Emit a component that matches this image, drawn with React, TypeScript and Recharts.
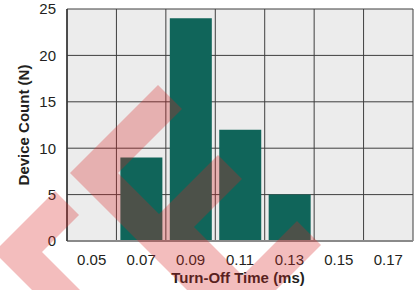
import React from 'react'
import { BarChart, Bar, XAxis, YAxis, CartesianGrid, Label } from 'recharts'

const TIMES = ['0.05', '0.07', '0.09', '0.11', '0.13', '0.15', '0.17']
const COUNTS = [0, 9, 24, 12, 5, 0, 0]
const Y_TICKS = [0, 5, 10, 15, 20, 25]
const Y_MINOR = Array.from({ length: 26 }, (_, i) => i)

const FONT = '"Liberation Sans", Arial, Helvetica, sans-serif'
const BAR = '#10655a'
const INK = '#231f20'

// pink check-mark watermark laid over the picture
const WATERMARK = [
  'M-6,252 L55,191 L79,215 L42,252 L90,300 L42,300 Z',
  'M70,173 L158,85 L182,109 L118,173 L248,303 L200,303 Z',
  'M146,227 L218,155 L242,179 L194,227 L264,297 L216,297 Z',
  'M213,305 L297,221 L321,245 L261,305 Z',
]

const data = TIMES.map((t, i) => ({ t, n: COUNTS[i] }))

export default function App() {
  return (
    <div style={{ position: 'absolute', left: 0, top: 0, width: 415, height: 290, background: '#fff' }}>
      <BarChart
        width={415}
        height={290}
        data={data}
        margin={{ top: 9, right: 2, left: 0, bottom: 0 }}
        barCategoryGap="8%"
        style={{ fontFamily: FONT }}
      >
        <CartesianGrid
          fill="#ececec"
          stroke="#3f3f3f"
          strokeWidth={1}
          verticalCoordinatesGenerator={({ offset }: any) =>
            Array.from({ length: TIMES.length + 1 }, (_, i) => offset.left + (i * offset.width) / TIMES.length)
          }
        />
        <XAxis
          dataKey="t"
          height={49}
          interval={0}
          tickLine={false}
          tickSize={0}
          tickMargin={13}
          axisLine={{ stroke: '#8a8a8a', strokeWidth: 2 }}
          tick={{ fontSize: 15, fill: INK, fontFamily: FONT }}
        >
          <Label
            content={({ viewBox }: any) => (
              <text
                x={viewBox.x + viewBox.width / 2 - 2}
                y={viewBox.y + 42}
                textAnchor="middle"
                fontSize={15}
                fontWeight="bold"
                fill={INK}
                fontFamily={FONT}
              >
                Turn-Off Time (ms)
              </text>
            )}
          />
        </XAxis>
        <YAxis
          width={67}
          domain={[0, 25]}
          ticks={Y_TICKS}
          interval={0}
          tickLine={false}
          tickSize={0}
          tickMargin={11}
          axisLine={{ stroke: '#333', strokeWidth: 1.5 }}
          tick={{ fontSize: 15, fill: INK, fontFamily: FONT }}
        >
          <Label
            content={({ viewBox }: any) => {
              const x = viewBox.x + 23
              const y = viewBox.y + viewBox.height / 2
              return (
                <text
                  x={x}
                  y={y}
                  transform={`rotate(-90 ${x} ${y})`}
                  textAnchor="middle"
                  dominantBaseline="central"
                  fontSize={15}
                  fontWeight="bold"
                  fill={INK}
                  fontFamily={FONT}
                >
                  Device Count (N)
                </text>
              )
            }}
          />
        </YAxis>
        <YAxis
          yAxisId="minor"
          orientation="left"
          mirror
          width={0}
          domain={[0, 25]}
          ticks={Y_MINOR}
          interval={0}
          tick={false}
          tickSize={5}
          axisLine={false}
          tickLine={{ stroke: '#444', strokeWidth: 1 }}
        />
        <Bar dataKey="n" fill={BAR} isAnimationActive={false} />
      </BarChart>
      <svg
        width={415}
        height={290}
        style={{ position: 'absolute', left: 0, top: 0, pointerEvents: 'none' }}
      >
        <path d={WATERMARK.join(' ')} fill="rgb(215,35,35)" fillOpacity={0.3} />
      </svg>
    </div>
  )
}
